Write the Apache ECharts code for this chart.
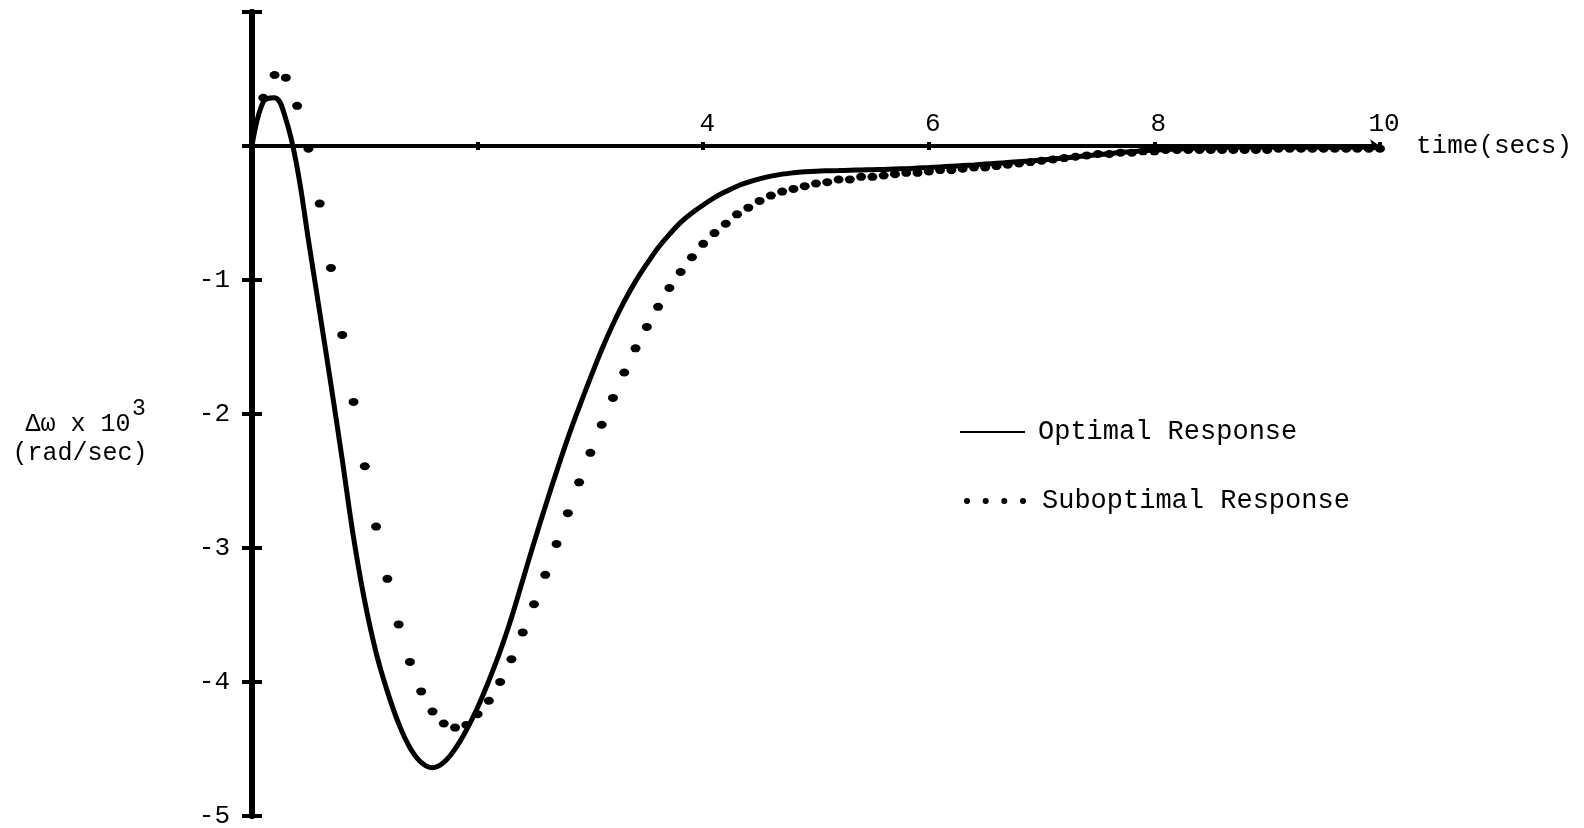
<!DOCTYPE html>
<html>
<head>
<meta charset="utf-8">
<title>Optimal vs Suboptimal Response</title>
<script src="https://cdn.jsdelivr.net/npm/echarts@6/dist/echarts.min.js"></script>
<style>
  html, body { margin: 0; padding: 0; background: #fff; }
  #chart { width: 1584px; height: 828px; }
</style>
</head>
<body>
<div id="chart"></div>
<script>
// time axis, seconds (0.1 s steps)
const time = [
  0.0, 0.1, 0.2, 0.3, 0.4, 0.5, 0.6, 0.7, 0.8, 0.9, 1.0,
  1.1, 1.2, 1.3, 1.4, 1.5, 1.6, 1.7, 1.8, 1.9, 2.0,
  2.1, 2.2, 2.3, 2.4, 2.5, 2.6, 2.7, 2.8, 2.9, 3.0,
  3.1, 3.2, 3.3, 3.4, 3.5, 3.6, 3.7, 3.8, 3.9, 4.0,
  4.1, 4.2, 4.3, 4.4, 4.5, 4.6, 4.7, 4.8, 4.9, 5.0,
  5.1, 5.2, 5.3, 5.4, 5.5, 5.6, 5.7, 5.8, 5.9, 6.0,
  6.1, 6.2, 6.3, 6.4, 6.5, 6.6, 6.7, 6.8, 6.9, 7.0,
  7.1, 7.2, 7.3, 7.4, 7.5, 7.6, 7.7, 7.8, 7.9, 8.0,
  8.1, 8.2, 8.3, 8.4, 8.5, 8.6, 8.7, 8.8, 8.9, 9.0,
  9.1, 9.2, 9.3, 9.4, 9.5, 9.6, 9.7, 9.8, 9.9, 10.0
]

// Δω x 10^3 (rad/sec), solid curve
const optimal = [
  0.00, 0.33, 0.36, 0.20, -0.16, -0.70, -1.24, -1.78, -2.34, -2.92, -3.40,
  -3.78, -4.07, -4.31, -4.49, -4.60, -4.64, -4.60, -4.50, -4.36, -4.19,
  -3.99, -3.77, -3.52, -3.24, -2.96, -2.69, -2.43, -2.18, -1.95, -1.73,
  -1.52, -1.33, -1.16, -1.01, -0.88, -0.76, -0.66, -0.57, -0.50, -0.44,
  -0.385, -0.34, -0.30, -0.27, -0.245, -0.225, -0.21, -0.20, -0.193, -0.188,
  -0.185, -0.183, -0.181, -0.179, -0.177, -0.175, -0.172, -0.169, -0.165, -0.161,
  -0.156, -0.151, -0.146, -0.141, -0.135, -0.129, -0.123, -0.117, -0.111, -0.104,
  -0.097, -0.089, -0.081, -0.073, -0.065, -0.057, -0.049, -0.042, -0.036, -0.030,
  -0.026, -0.022, -0.019, -0.016, -0.014, -0.012, -0.010, -0.010, -0.010, -0.010,
  -0.010, -0.010, -0.010, -0.010, -0.010, -0.010, -0.010, -0.010, -0.010, -0.010
]

// dotted curve
const suboptimal = [
  null, 0.36, 0.53, 0.51, 0.30, -0.02, -0.43, -0.91, -1.41, -1.91, -2.39,
  -2.84, -3.23, -3.57, -3.85, -4.07, -4.22, -4.31, -4.34, -4.32, -4.24,
  -4.14, -4.00, -3.83, -3.63, -3.42, -3.20, -2.97, -2.74, -2.51, -2.29,
  -2.08, -1.88, -1.69, -1.51, -1.35, -1.20, -1.06, -0.94, -0.83, -0.73,
  -0.65, -0.58, -0.51, -0.46, -0.41, -0.37, -0.34, -0.32, -0.30, -0.28,
  -0.27, -0.25, -0.25, -0.23, -0.23, -0.22, -0.21, -0.20, -0.20, -0.19,
  -0.18, -0.18, -0.17, -0.16, -0.16, -0.15, -0.14, -0.13, -0.12, -0.11,
  -0.10, -0.09, -0.08, -0.07, -0.06, -0.06, -0.05, -0.05, -0.04, -0.04,
  -0.03, -0.03, -0.03, -0.03, -0.03, -0.03, -0.03, -0.03, -0.03, -0.03,
  -0.02, -0.02, -0.02, -0.02, -0.02, -0.02, -0.02, -0.02, -0.02, -0.02
]

const xLabels = ['4', '6', '8', '10']
const yLabels = ['-1', '-2', '-3', '-4', '-5']

const FONT = '"Liberation Mono", "DejaVu Sans Mono", monospace'

const pairs = (ys) => time.map((t, i) => [t, ys[i]])

const myChart = echarts.init(document.getElementById('chart'), null, { renderer: 'canvas' })

const xBase = {
  type: 'value', min: 0, max: 10, interval: 2,
  splitLine: { show: false },
  axisTick: { show: true, length: 4, lineStyle: { color: '#000', width: 4 } }
}
const yBase = {
  type: 'value', min: -5, max: 1, interval: 1,
  splitLine: { show: false },
  axisTick: { show: true, length: 10, lineStyle: { color: '#000', width: 4 } }
}

const dotsIcon = 'path://M0,3a3,3 0 1,0 6,0a3,3 0 1,0 -6,0Z' +
  'M18.7,3a3,3 0 1,0 6,0a3,3 0 1,0 -6,0Z' +
  'M37.3,3a3,3 0 1,0 6,0a3,3 0 1,0 -6,0Z' +
  'M56,3a3,3 0 1,0 6,0a3,3 0 1,0 -6,0Z'

myChart.setOption({
  animation: false,
  backgroundColor: '#fff',
  grid: { left: 252, right: 204, top: 12, bottom: 12, outerBoundsMode: 'none' },
  xAxis: [
    // main axis: ticks down, arrow at the end, name
    Object.assign({}, xBase, {
      position: 'bottom',
      axisLine: { onZero: true, onZeroAxisIndex: 0, symbol: ['none', 'arrow'], symbolSize: [10, 10],
        lineStyle: { color: '#000', width: 4 } },
      axisLabel: { show: false },
      name: 'time(secs)', nameLocation: 'end', nameGap: 36,
      nameTextStyle: { color: '#000', fontFamily: FONT, fontSize: 26, padding: [0, 0, 14, 0] }
    }),
    // twin axis: upward half of the ticks + tick labels (labels sit from the grid top edge)
    Object.assign({}, xBase, {
      position: 'top',
      axisLine: { onZero: true, onZeroAxisIndex: 1, lineStyle: { color: '#000', width: 4 } },
      axisLabel: {
        show: true, inside: true, margin: 99, color: '#000', fontFamily: FONT, fontSize: 26,
        padding: [0, 0, 0, 8],
        formatter: (v) => xLabels.indexOf(String(v)) >= 0 ? String(v) : ''
      }
    })
  ],
  yAxis: [
    Object.assign({}, yBase, {
      position: 'left',
      axisLine: { onZero: true, onZeroAxisIndex: 0, lineStyle: { color: '#000', width: 6 } },
      axisLabel: {
        margin: 22, color: '#000', fontFamily: FONT, fontSize: 26,
        formatter: (v) => yLabels.indexOf(String(v)) >= 0 ? String(v) : ''
      }
    }),
    Object.assign({}, yBase, {
      position: 'right',
      axisLine: { onZero: true, onZeroAxisIndex: 1, lineStyle: { color: '#000', width: 6 } },
      axisLabel: { show: false }
    })
  ],
  legend: [
    {
      data: [{ name: 'Optimal Response', icon: 'path://M0,0H65V2H0Z' }],
      left: 960, top: 417, padding: 0, selectedMode: false,
      itemWidth: 65, itemHeight: 2,
      textStyle: { color: '#000', fontFamily: FONT, fontSize: 27, lineHeight: 30, padding: [0, 0, 0, 8] }
    },
    {
      data: [{ name: 'Suboptimal Response', icon: dotsIcon }],
      left: 964, top: 486, padding: 0, selectedMode: false,
      itemWidth: 62, itemHeight: 6,
      textStyle: { color: '#000', fontFamily: FONT, fontSize: 27, lineHeight: 30, padding: [0, 0, 0, 11] }
    }
  ],
  graphic: [
    { type: 'text', x: 78, y: 424, style: { text: 'Δω x 10', font: '25px ' + FONT, fill: '#000', align: 'center', verticalAlign: 'middle' } },
    { type: 'text', x: 132, y: 409, style: { text: '3', font: '23px ' + FONT, fill: '#000', align: 'left', verticalAlign: 'middle' } },
    { type: 'text', x: 80, y: 453, style: { text: '(rad/sec)', font: '25px ' + FONT, fill: '#000', align: 'center', verticalAlign: 'middle' } }
  ],
  series: [
    {
      name: 'Optimal Response',
      type: 'line',
      xAxisIndex: 0, yAxisIndex: 0,
      data: pairs(optimal),
      smooth: 0.4,
      showSymbol: false,
      lineStyle: { color: '#000', width: 5 },
      itemStyle: { color: '#000' },
      z: 3
    },
    {
      name: 'Suboptimal Response',
      type: 'scatter',
      xAxisIndex: 0, yAxisIndex: 0,
      data: pairs(suboptimal).filter(p => p[1] !== null),
      symbol: 'circle',
      symbolSize: [10, 8],
      itemStyle: { color: '#000', opacity: 1 },
      z: 4
    }
  ]
})
</script>
</body>
</html>
